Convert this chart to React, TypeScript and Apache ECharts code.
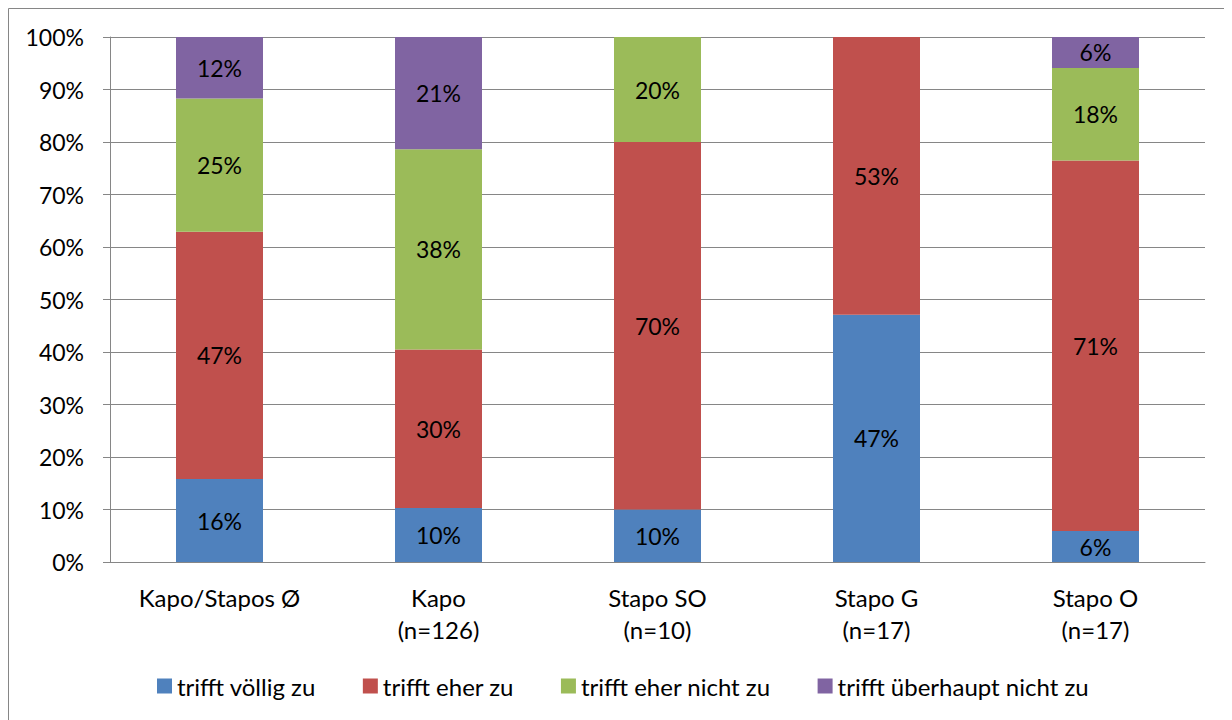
import React, { useEffect, useRef } from "react";
import * as echarts from "echarts";

const categories = [
  "Kapo/Stapos Ø",
  "Kapo\n(n=126)",
  "Stapo SO\n(n=10)",
  "Stapo G\n(n=17)",
  "Stapo O\n(n=17)",
];
const seriesNames = [
  "trifft völlig zu",
  "trifft eher zu",
  "trifft eher nicht zu",
  "trifft überhaupt nicht zu",
];
const voelligZu = [15.8, 10.3, 10, 47.1, 5.9];
const eherZu = [47.1, 30.2, 70, 52.9, 70.6];
const eherNichtZu = [25.4, 38.1, 20, 0, 17.6];
const ueberhauptNichtZu = [11.7, 21.4, 0, 0, 5.9];
const yTicks = [0, 10, 20, 30, 40, 50, 60, 70, 80, 90, 100];

const colors = ["#4F81BD", "#C0504D", "#9BBB59", "#8064A2"];
const FONT = "Lato";

export default function App() {
  const ref = useRef<HTMLDivElement>(null);
  useEffect(() => {
    if (!ref.current) return;
    const chart = echarts.init(ref.current, undefined, { renderer: "svg" });
    const values = [voelligZu, eherZu, eherNichtZu, ueberhauptNichtZu];
    chart.setOption({
      animation: false,
      textStyle: { fontFamily: FONT },
      graphic: [
        {
          type: "rect",
          shape: { x: 0.5, y: 0.5, width: 1400, height: 900 },
          style: { fill: "none", stroke: "#868686", lineWidth: 1 },
          silent: true,
        },
      ],
      grid: { left: 102, top: 29, width: 1095, height: 525 },
      legend: {
        left: 144,
        top: 661,
        icon: "rect",
        itemWidth: 15,
        itemHeight: 15,
        itemGap: 47,
        textStyle: { fontFamily: FONT, fontSize: 24, color: "#000" },
        data: seriesNames,
      },
      xAxis: {
        type: "category",
        data: categories,
        axisLine: { lineStyle: { color: "#868686", width: 1 } },
        axisTick: { length: 8, lineStyle: { color: "#868686" } },
        axisLabel: {
          fontFamily: FONT,
          fontSize: 24,
          color: "#000",
          lineHeight: 32,
          margin: 19,
          interval: 0,
        },
      },
      yAxis: {
        type: "value",
        min: yTicks[0],
        max: yTicks[yTicks.length - 1],
        interval: 10,
        axisLine: { show: true, lineStyle: { color: "#868686", width: 1 } },
        axisTick: { show: true, length: 7, lineStyle: { color: "#868686" } },
        splitLine: { lineStyle: { color: "#868686", width: 1 } },
        axisLabel: {
          fontFamily: FONT,
          fontSize: 23,
          color: "#000",
          margin: 26,
          formatter: "{value}%",
        },
      },
      series: seriesNames.map((name, i) => ({
        name,
        type: "bar",
        stack: "total",
        barWidth: 87,
        data: values[i],
        itemStyle: { color: colors[i] },
        label: {
          show: true,
          position: "inside",
          color: "#000",
          fontFamily: FONT,
          fontSize: 23,
          formatter: (p: any) => (p.value > 0 ? Math.round(p.value) + "%" : ""),
        },
      })),
    });
    return () => chart.dispose();
  }, []);
  return <div ref={ref} style={{ width: 1224, height: 712 }} />;
}
